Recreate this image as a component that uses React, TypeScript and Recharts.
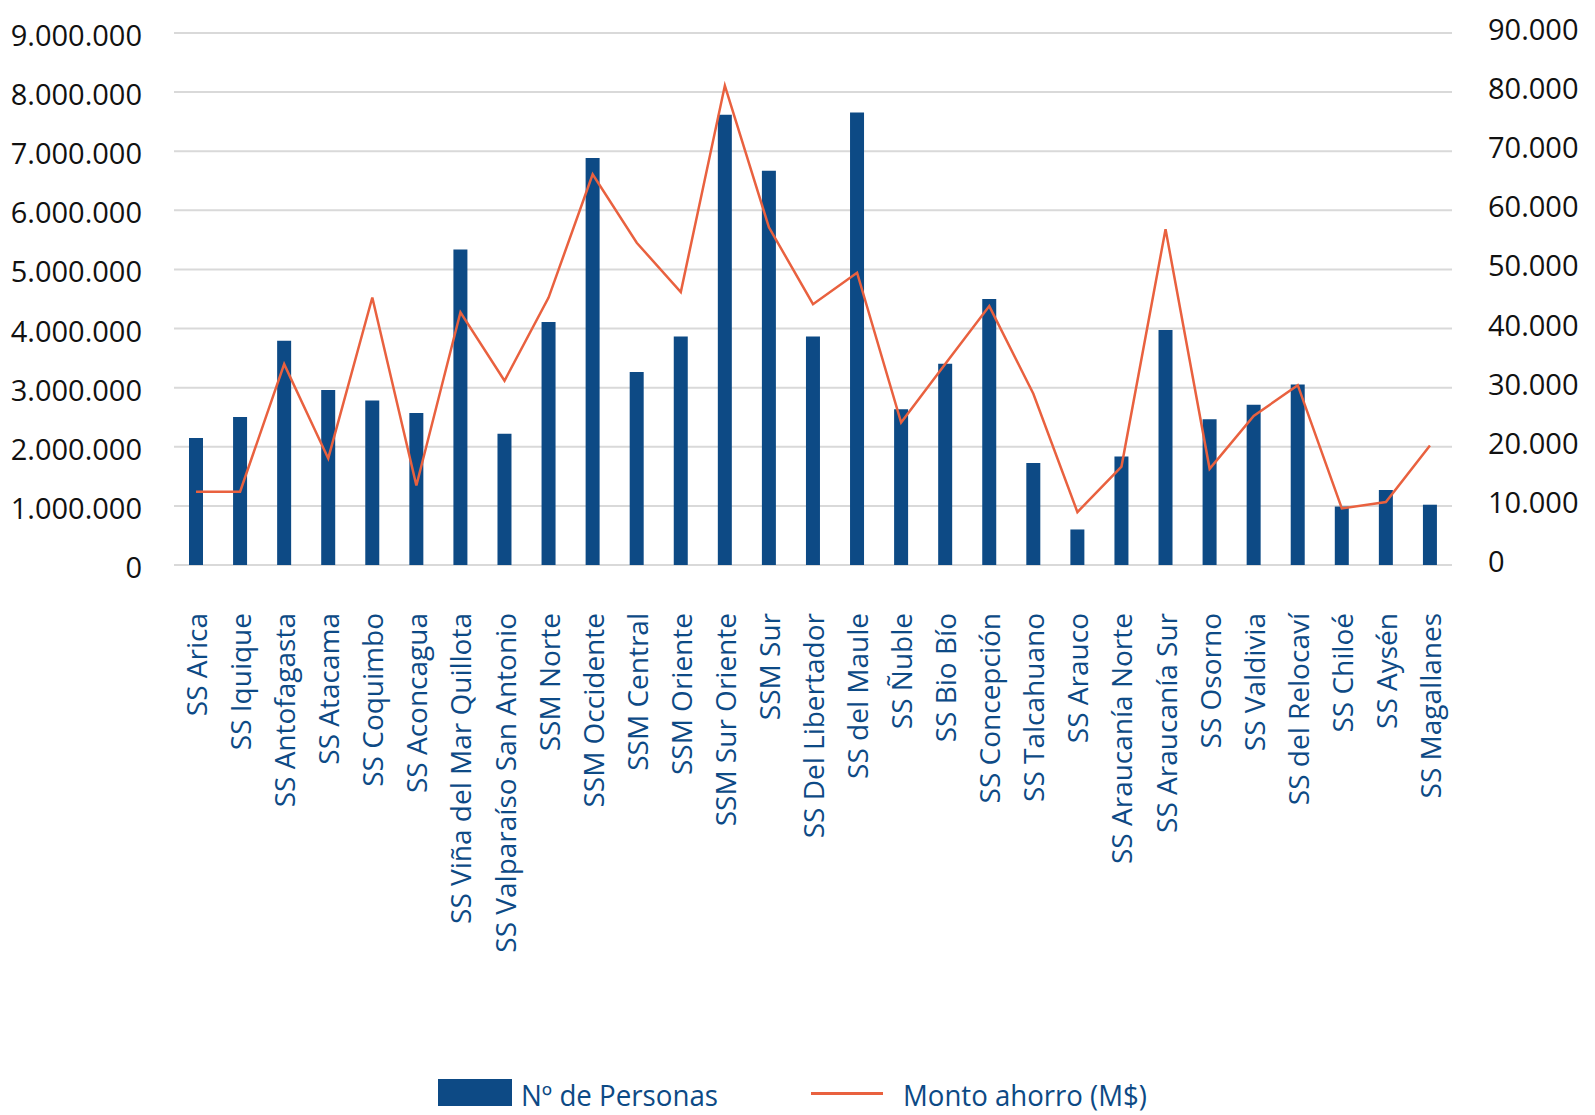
import { ComposedChart, Bar, Line, XAxis, YAxis, CartesianGrid, Legend } from 'recharts'

const categories = [
  'SS Arica',
  'SS Iquique',
  'SS Antofagasta',
  'SS Atacama',
  'SS Coquimbo',
  'SS Aconcagua',
  'SS Viña del Mar Quillota',
  'SS Valparaíso San Antonio',
  'SSM Norte',
  'SSM Occidente',
  'SSM Central',
  'SSM Oriente',
  'SSM Sur Oriente',
  'SSM Sur',
  'SS Del Libertador',
  'SS del Maule',
  'SS Ñuble',
  'SS Bio Bío',
  'SS Concepción',
  'SS Talcahuano',
  'SS Arauco',
  'SS Araucanía Norte',
  'SS Araucanía Sur',
  'SS Osorno',
  'SS Valdivia',
  'SS del Relocaví',
  'SS Chiloé',
  'SS Aysén',
  'SS Magallanes',
]

// Nº de Personas (left axis)
const personas = [
  2147000, 2503000, 3793000, 2960000, 2785000, 2572000, 5339000, 2222000, 4112000, 6884000,
  3267000, 3867000, 7616000, 6671000, 3867000, 7653000, 2635000, 3404000, 4499000, 1727000,
  601000, 1834000, 3974000, 2466000, 2710000, 3054000, 989000, 1270000, 1020000,
]

// Monto ahorro (M$) (right axis)
const monto = [
  12400, 12400, 33980, 18030, 45250, 13460, 42750, 31170, 45240, 66080,
  54510, 46180, 81100, 57130, 44120, 49440, 24090, 34000, 43800, 28970,
  8950, 16650, 56820, 16270, 25220, 30420, 9570, 10640, 20210,
]

const leftTicks = [0, 1000000, 2000000, 3000000, 4000000, 5000000, 6000000, 7000000, 8000000, 9000000]
const rightTicks = [0, 10000, 20000, 30000, 40000, 50000, 60000, 70000, 80000, 90000]

const data = categories.map((name, i) => ({ name, personas: personas[i], monto: monto[i] }))

const BLUE = '#0D4A85'
const ORANGE = '#E9613F'
const FONT = '"Open Sans", sans-serif'

const fmt = (v: number) => String(v).replace(/\B(?=(\d{3})+(?!\d))/g, '.')

function XTick({ x, y, payload }: any) {
  return (
    <text
      transform={`translate(${x},${y}) rotate(-90)`}
      textAnchor="end"
      dominantBaseline="central"
      fill={BLUE}
      fontSize={28}
      fontFamily={FONT}
    >
      {payload.value}
    </text>
  )
}

function LeftTick({ x, y, payload }: any) {
  return (
    <text x={x} y={y} dy={13} textAnchor="end" fill="#111" fontSize={29} fontFamily={FONT}>
      {fmt(payload.value)}
    </text>
  )
}

function RightTick({ x, y, payload }: any) {
  return (
    <text x={x} y={y} dy={7} textAnchor="start" fill="#111" fontSize={29} fontFamily={FONT}>
      {fmt(payload.value)}
    </text>
  )
}

function LegendBox() {
  return (
    <svg width={1595} height={55} style={{ display: 'block' }}>
      <rect x={438} y={19} width={74} height={27} fill={BLUE} />
      <text x={521} y={46} fill={BLUE} fontSize={29} fontFamily={FONT} textLength={197} lengthAdjust="spacingAndGlyphs">
        Nº de Personas
      </text>
      <line x1={811} x2={883} y1={33.5} y2={33.5} stroke={ORANGE} strokeWidth={3} />
      <text x={903} y={46} fill={BLUE} fontSize={29} fontFamily={FONT} textLength={244} lengthAdjust="spacingAndGlyphs">
        Monto ahorro (M$)
      </text>
    </svg>
  )
}

export default function App() {
  return (
    <div style={{ width: 1595, height: 1115, background: '#fff' }}>
      <style>{'body{margin:0}'}</style>
      <ComposedChart width={1595} height={1115} data={data} margin={{ top: 33, right: 0, bottom: 0, left: 0 }}>
        <CartesianGrid yAxisId="left" vertical={false} stroke="#D9D9D9" strokeWidth={2} />
        <XAxis
          dataKey="name"
          interval={0}
          height={550}
          axisLine={false}
          tickLine={false}
          tickSize={0}
          tickMargin={48}
          tick={<XTick />}
        />
        <YAxis
          yAxisId="left"
          orientation="left"
          width={174}
          domain={[0, 9000000]}
          ticks={leftTicks}
          axisLine={false}
          tickLine={false}
          tickSize={0}
          tickMargin={32}
          tick={<LeftTick />}
        />
        <YAxis
          yAxisId="right"
          orientation="right"
          width={143}
          domain={[0, 90000]}
          ticks={rightTicks}
          axisLine={false}
          tickLine={false}
          tickSize={0}
          tickMargin={36}
          tick={<RightTick />}
        />
        <Bar yAxisId="left" dataKey="personas" name="Nº de Personas" fill={BLUE} barSize={14} isAnimationActive={false} />
        <Line
          yAxisId="right"
          type="linear"
          dataKey="monto"
          name="Monto ahorro (M$)"
          stroke={ORANGE}
          strokeWidth={2.5}
          dot={false}
          activeDot={false}
          isAnimationActive={false}
        />
        <Legend
          layout="vertical"
          align="center"
          verticalAlign="middle"
          wrapperStyle={{ left: 0, top: 1060, width: 1595 }}
          content={() => <LegendBox />}
        />
      </ComposedChart>
    </div>
  )
}
